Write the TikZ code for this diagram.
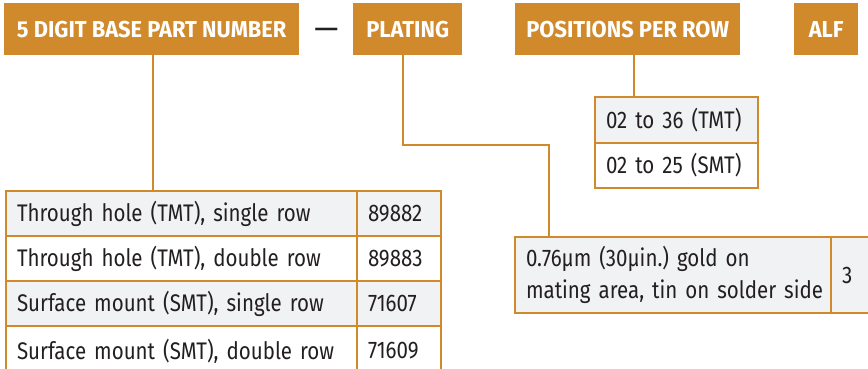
\documentclass[tikz,border=0pt]{standalone}
\usepackage{fontspec}
\setmainfont[FakeStretch=0.855]{Fira Sans}
\newfontfamily\headfont[FakeStretch=0.95]{Fira Sans}
\frenchspacing
\definecolor{amber}{HTML}{D08A2B}
\definecolor{rowgray}{HTML}{F1F2F4}
\definecolor{ink}{HTML}{231F20}

\tikzstyle{header} = [fill=amber, text=white, font=\headfont\bfseries\fontsize{23}{24}\selectfont, minimum height=52pt, inner sep=0pt, anchor=north west]
\tikzstyle{cell} = [draw=amber, line width=2pt, text=ink, font=\fontsize{24}{32}\selectfont, inner xsep=11pt, inner ysep=0pt, anchor=north west, align=left]
\tikzstyle{wire} = [draw=amber, line width=2pt]

\begin{document}
\begin{tikzpicture}[x=1pt, y=-1pt]
		\useasboundingbox (0,0) rectangle (868,369);
		\clip (0,0) rectangle (868,369);
		% headers
		\node [header, minimum width=295pt] at (4,3) (base) {5 DIGIT BASE PART NUMBER};
		\node [text=ink, font=\headfont\fontsize{32}{32}\selectfont, inner sep=0pt, anchor=base] at (326.5,40) (hyphen) {—};
		\node [header, minimum width=109pt] at (353,3) (plating) {PLATING};
		\node [header, minimum width=225pt] at (515,3) (positions) {POSITIONS PER ROW};
		\node [header, minimum width=64pt] at (794,3) (alf) {ALF};
		
		% base part numbers
		\node [cell, fill=rowgray, text width=329pt, minimum height=45pt] at (5,190) (t1) {Through hole (TMT), single row};
		\node [cell, fill=rowgray, text width=62pt, minimum height=45pt] at (356,190) (n1) {89882};
		\node [cell, fill=white, text width=329pt, minimum height=45pt] at (5,235) (t2) {Through hole (TMT), double row};
		\node [cell, fill=white, text width=62pt, minimum height=45pt] at (356,235) (n2) {89883};
		\node [cell, fill=rowgray, text width=329pt, minimum height=45pt] at (5,280) (t3) {Surface mount (SMT), single row};
		\node [cell, fill=rowgray, text width=62pt, minimum height=45pt] at (356,280) (n3) {71607};
		\node [cell, fill=white, text width=329pt, minimum height=50pt] at (5,325) (t4) {Surface mount (SMT), double row};
		\node [cell, fill=white, text width=62pt, minimum height=50pt] at (356,325) (n4) {71609};
		
		% positions per row
		\node [cell, fill=rowgray, text width=141pt, minimum height=46pt] at (594,96) (p1) {02 to 36 (TMT)};
		\node [cell, fill=white, text width=141pt, minimum height=45pt] at (594,142) (p2) {02 to 25 (SMT)};
		
		% plating
		\node [cell, fill=rowgray, text width=294pt, minimum height=76pt] at (514,236) (gold) {\mbox{0.76µm (30µin.) gold on}\\\mbox{mating area, tin on solder side}};
		\node [cell, fill=rowgray, text width=60pt, minimum height=76pt] at (830,236) (g1) {3};
		
		\coordinate (bend) at (549,145);
  		\draw [wire] ([xshift=1.5pt]base.south) -- ([xshift=1.5pt]base.south |- t1.north);
  		\draw [wire] ([xshift=-4.5pt]plating.south) |- (bend) -- (bend |- gold.north);
  		\draw [wire] ([xshift=6.5pt]positions.south) -- ([xshift=6.5pt]positions.south |- p1.north);
	\end{tikzpicture}
\end{document}
